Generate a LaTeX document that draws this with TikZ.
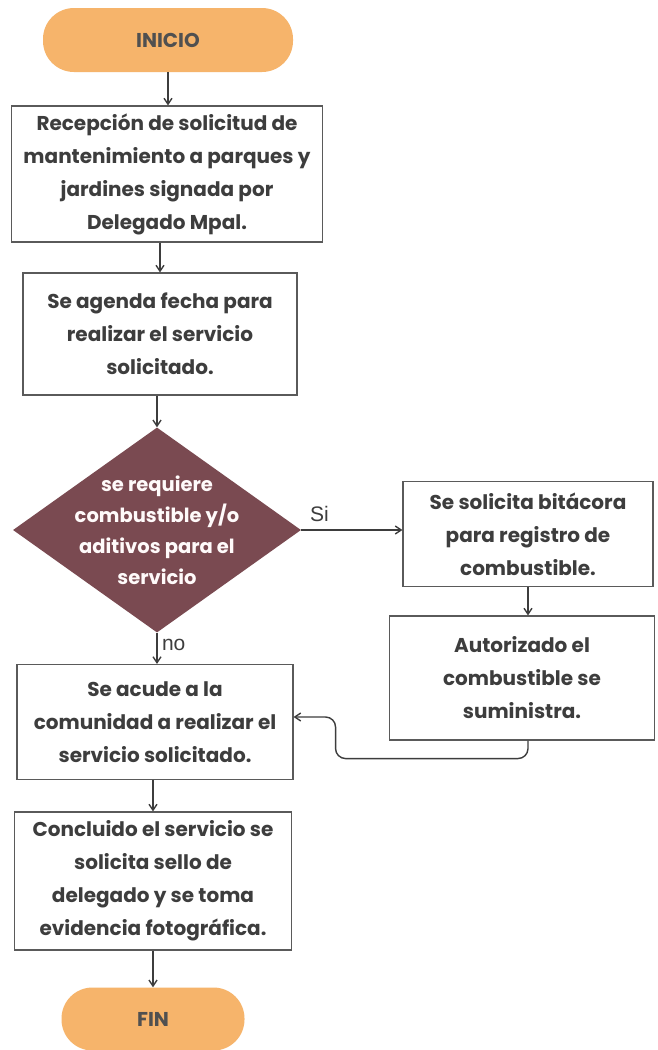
\documentclass[tikz,border=0pt]{standalone}
\usepackage{fontspec}
\setmainfont{Poppins}
\newfontfamily\labelfont{Liberation Sans}
\usetikzlibrary{shapes.geometric,arrows.meta}
\definecolor{pillorange}{HTML}{F6B46B}
\definecolor{decbrown}{HTML}{7A4A51}
\definecolor{inkgray}{HTML}{3D3D3D}
\tikzset{
  proc/.style={draw=inkgray!85,line width=1.1pt,fill=white,text=inkgray,
    align=center,font=\bfseries\fontsize{20}{33}\selectfont,inner sep=0pt},
  pill/.style={fill=pillorange,rounded corners=31pt,text=inkgray!90,
    font=\bfseries\fontsize{20}{22}\selectfont},
  dec/.style={diamond,fill=decbrown,inner sep=0pt,aspect=1.4},
  dectext/.style={text=white!92!pink,align=center,
    font=\bfseries\fontsize{19.5}{31}\selectfont},
  arr/.style={draw=inkgray,line width=1.4pt,-{Straight Barb[length=6pt,width=8pt]}}
}
\begin{document}
\begin{tikzpicture}[x=1pt,y=-1pt]
\useasboundingbox[fill=white](0,0) rectangle (657,1050);
\node[pill,minimum width=250,minimum height=64](inicio) at (168,40) {INICIO};
\node[proc,minimum width=311,minimum height=136](recep) at (167,174)
  {Recepción de solicitud de\\mantenimiento a parques y\\jardines signada por\\Delegado Mpal.};
\node[proc,minimum width=274,minimum height=122](agenda) at (160,334)
  {Se agenda fecha para\\realizar el servicio\\solicitado.};
\node[dec,minimum width=288,minimum height=205](req) at (157,530) {};
\node[dectext] at (req) {se requiere\\combustible y/o\\aditivos para el\\servicio};
\node[proc,minimum width=250,minimum height=105](bitac) at (528,534)
  {Se solicita bitácora\\para registro de\\combustible.};
\node[proc,minimum width=265,minimum height=124](autor) at (522,678)
  {Autorizado el\\combustible se\\suministra.};
\node[proc,minimum width=276,minimum height=115](acude) at (155,722)
  {Se acude a la\\comunidad a realizar el\\servicio solicitado.};
\node[proc,minimum width=277,minimum height=138](concl) at (153,881)
  {Concluido el servicio se\\solicita sello de\\delegado y se toma\\evidencia fotográfica.};
\node[pill,minimum width=183,minimum height=63](fin) at (153,1019) {FIN};
\draw[arr](inicio.south)--(inicio.south|-recep.north);
\draw[arr](recep.south-|agenda.north)--(agenda.north);
\draw[arr](agenda.south-|req.north)--(req.north);
\draw[arr](req.east)--(bitac.west|-req.east)node[pos=0.18,above=4pt,font=\labelfont\fontsize{21}{21}\selectfont,text=inkgray]{Si};
\draw[arr](bitac.south)--(bitac.south|-autor.north);
\draw[arr](req.south)--(req.south|-acude.north)node[pos=0.4,right=1pt,font=\labelfont\fontsize{21}{21}\selectfont,text=inkgray]{no};
\draw[arr,rounded corners=10pt](autor.south-|bitac.south)--++(0,18)-|([xshift=42pt,yshift=5pt]acude.east)--([yshift=5pt]acude.east);
\draw[arr](acude.south-|concl.north)--(concl.north);
\draw[arr](concl.south)--(fin.north);
\end{tikzpicture}
\end{document}
